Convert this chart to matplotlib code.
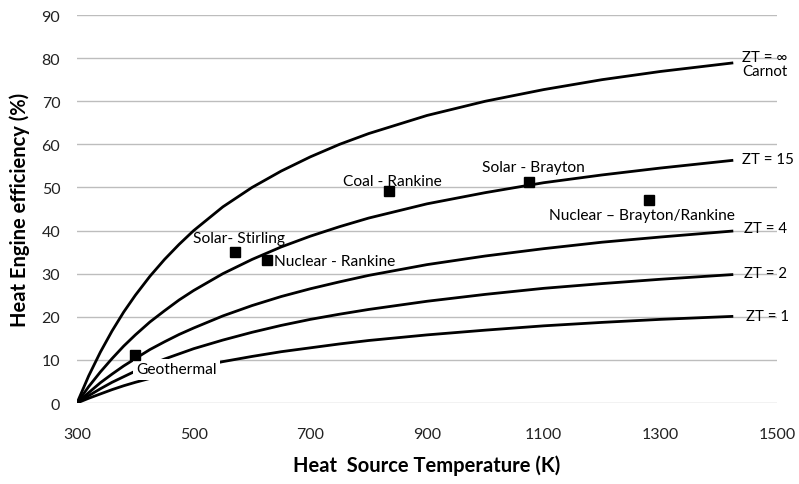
import matplotlib.pyplot as plt

plt.rcParams['font.family'] = ['Lato', 'DejaVu Sans']

# heat source temperature (K) and engine efficiency (%) for each ZT curve
temp = [300, 320, 340, 360, 380, 400, 425, 450, 475, 500, 550, 600, 650, 700, 750,
        800, 900, 1000, 1100, 1200, 1300, 1425]
carnot = [0, 6.3, 11.8, 16.7, 21.1, 25.0, 29.4, 33.3, 36.8, 40.0, 45.5, 50.0, 53.8, 57.1, 60.0,
          62.5, 66.7, 70.0, 72.7, 75.0, 76.9, 78.9]
zt15 = [0, 3.8, 7.2, 10.3, 13.2, 15.8, 18.8, 21.4, 23.9, 26.1, 30.0, 33.3, 36.2, 38.7, 40.9,
        42.9, 46.2, 48.8, 51.1, 52.9, 54.5, 56.3]
zt4 = [0, 2.4, 4.7, 6.7, 8.6, 10.3, 12.4, 14.2, 15.9, 17.4, 20.2, 22.6, 24.7, 26.5, 28.1,
       29.6, 32.1, 34.1, 35.8, 37.3, 38.5, 39.9]
zt2 = [0, 1.7, 3.3, 4.8, 6.1, 7.4, 8.8, 10.2, 11.4, 12.6, 14.6, 16.4, 18.0, 19.4, 20.6,
       21.7, 23.6, 25.2, 26.6, 27.7, 28.7, 29.8]
zt1 = [0, 1.1, 2.1, 3.1, 4.0, 4.8, 5.7, 6.6, 7.5, 8.2, 9.6, 10.8, 11.9, 12.8, 13.7,
       14.5, 15.8, 16.9, 17.9, 18.7, 19.4, 20.1]

# existing heat engines
eng_names = ['Geothermal', 'Solar- Stirling', 'Nuclear - Rankine', 'Coal - Rankine',
             'Solar - Brayton', 'Nuclear \u2013 Brayton/Rankine']
eng_temp = [400, 570, 625, 835, 1075, 1280]
eng_eff = [11.2, 35.0, 33.2, 49.1, 51.2, 47.1]

fig = plt.figure(figsize=(7.99, 4.85), dpi=100)
ax = fig.add_axes([0.0964, 0.167, 0.8761, 0.800])

for curve in [carnot, zt15, zt4, zt2, zt1]:
    ax.plot(temp, curve, color='black', lw=2, zorder=3, solid_capstyle='butt',
            solid_joinstyle='round')

ax.plot(eng_temp, eng_eff, ls='none', marker='s', ms=6.5, color='black', zorder=5)

fs = 11.2
# data labels for the engines
ax.text(402, 7.8, eng_names[0], fontsize=fs, va='center', ha='left', zorder=4,
        bbox=dict(facecolor='white', edgecolor='none', pad=2.5))
ax.text(577, 38.3, eng_names[1], fontsize=fs, va='center', ha='center', zorder=4)
ax.text(637, 33.0, eng_names[2], fontsize=fs, va='center', ha='left', zorder=4)
ax.text(840, 51.6, eng_names[3], fontsize=fs, va='center', ha='center', zorder=4)
ax.text(1082, 54.8, eng_names[4], fontsize=fs, va='center', ha='center', zorder=4)
ax.text(1268, 43.7, eng_names[5], fontsize=fs, va='center', ha='center', zorder=4)

# curve labels
cf = 10.8
ax.text(1440, 80.3, 'ZT = \u221e', fontsize=cf, va='center', ha='left', clip_on=False)
ax.text(1440, 77.0, 'Carnot', fontsize=cf, va='center', ha='left', clip_on=False)
ax.text(1440, 56.6, 'ZT = 15', fontsize=cf, va='center', ha='left', clip_on=False)
ax.text(1443, 40.5, 'ZT = 4', fontsize=cf, va='center', ha='left', clip_on=False)
ax.text(1443, 30.2, 'ZT = 2', fontsize=cf, va='center', ha='left', clip_on=False)
ax.text(1446, 20.2, 'ZT = 1', fontsize=cf, va='center', ha='left', clip_on=False)

ax.set_xlim(300, 1500)
ax.set_ylim(0, 90)
ax.set_xticks(range(300, 1501, 200))
ax.set_yticks(range(0, 91, 10))
ax.tick_params(length=0, labelsize=11.5, colors='#222222')
ax.tick_params(axis='x', pad=17)
ax.tick_params(axis='y', pad=12)
ax.grid(axis='y', color='#bdbdbd', lw=1)
ax.set_axisbelow(True)
for s in ax.spines.values():
    s.set_visible(False)

ax.set_xlabel('Heat  Source Temperature (K)', fontsize=14.5, fontweight='bold', labelpad=10)
ax.set_ylabel('Heat Engine efficiency (%)', fontsize=14.5, fontweight='bold', labelpad=8)

fig.savefig('out.png', dpi=100)
